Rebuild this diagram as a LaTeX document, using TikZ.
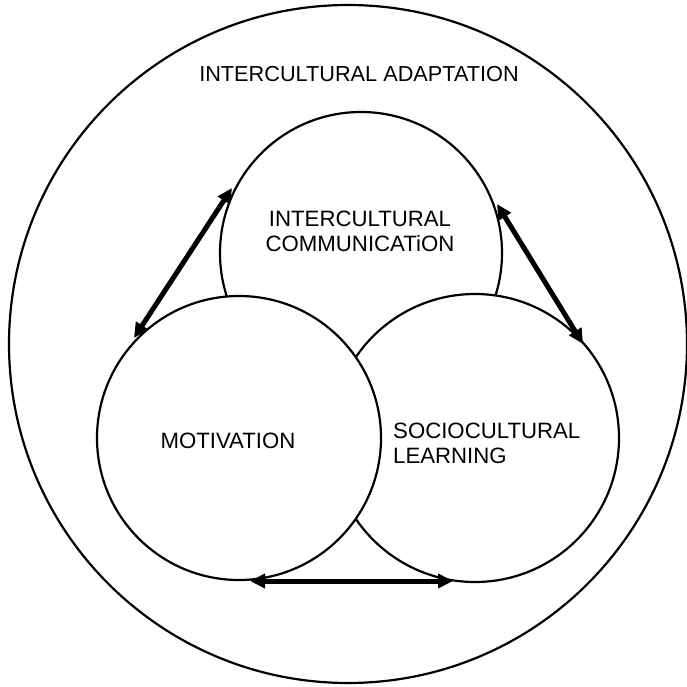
\documentclass[tikz,border=0pt]{standalone}
\usepackage{fontspec}
\setmainfont{Liberation Sans}
\usetikzlibrary{arrows.meta}
\begin{document}
\begin{tikzpicture}[x=1pt,y=-1pt,
  ring/.style={circle,draw=black,line width=2.2pt,fill=white,inner sep=0pt},
  caption/.style={inner sep=0pt,font=\fontsize{22.2}{25}\selectfont},
  heading/.style={inner sep=0pt,font=\fontsize{21.7}{25}\selectfont},
  link/.style={line width=5pt,{Triangle[length=15pt,width=14pt]}-{Triangle[length=15pt,width=14pt]}}]
\useasboundingbox (0,0) rectangle (686,687);
% outer frame: the whole adaptation process
\node[ring,minimum size=678pt] (outer) at (348,344) {};
% the three overlapping components
\node[ring,minimum size=282pt] (comm) at (361,253) {};
\node[ring,minimum size=288pt] (learn) at (475,438) {};
\node[ring,minimum size=284pt] (motiv) at (239,438) {};
% texts
\node[heading,anchor=base] (title) at (359,82) {INTERCULTURAL ADAPTATION};
\node[caption,anchor=base] (t1) at (360,226) {INTERCULTURAL};
\node[caption,anchor=base] (t2) at (360,251) {COMMUNICATiON};
\node[caption,anchor=base] (t3) at (228,448) {MOTIVATION};
\node[caption,anchor=base west] (t4) at (393,438) {SOCIOCULTURAL};
\node[caption,anchor=base west] (t5) at (393,463) {LEARNING};
% two-way links between the components
\coordinate (a1) at (232,188);
\coordinate (a2) at (134,338);
\coordinate (b1) at (497,204);
\coordinate (b2) at (583,344);
\coordinate (c1) at (250,581);
\coordinate (c2) at (453,581);
\draw[link] (a1) -- (a2);
\draw[link] (b1) -- (b2);
\draw[link] (c1) -- (c2);
\end{tikzpicture}
\end{document}
